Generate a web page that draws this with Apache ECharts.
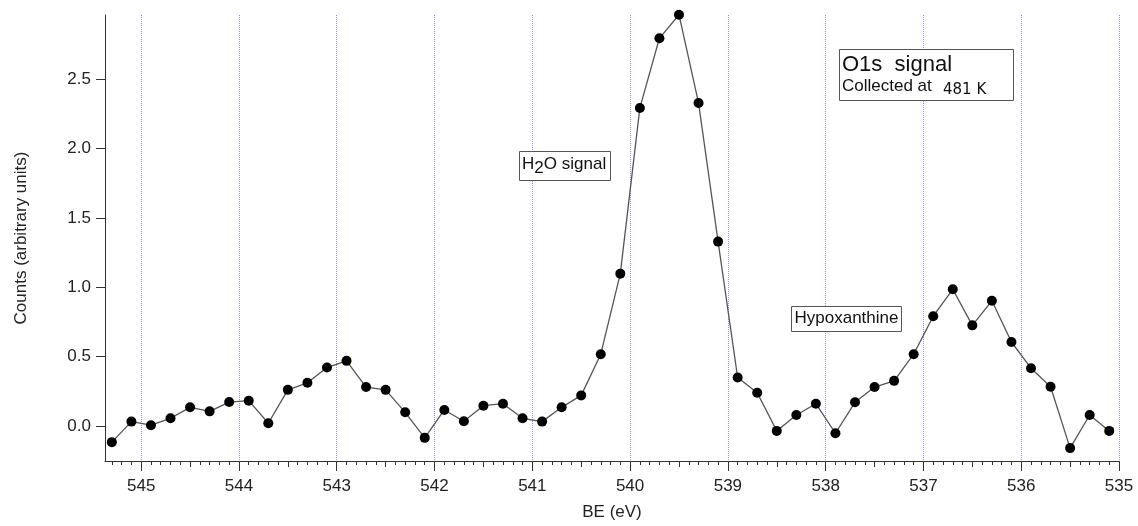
<!DOCTYPE html>
<html>
<head>
<meta charset="utf-8">
<script src="https://cdn.jsdelivr.net/npm/echarts@6/dist/echarts.min.js"></script>
<style>
html,body{margin:0;padding:0;background:#fff;}
#chart{width:1138px;height:526px;}
</style>
</head>
<body>
<div id="chart"></div>
<script>
// Binding energies (eV) of each measured point
const beValues = [545.3,545.1,544.9,544.7,544.5,544.3,544.1,543.9,543.7,543.5,
  543.3,543.1,542.9,542.7,542.5,542.3,542.1,541.9,541.7,541.5,
  541.3,541.1,540.9,540.7,540.5,540.3,540.1,539.9,539.7,539.5,
  539.3,539.1,538.9,538.7,538.5,538.3,538.1,537.9,537.7,537.5,
  537.3,537.1,536.9,536.7,536.5,536.3,536.1,535.9,535.7,535.5,
  535.3,535.1];
// Counts (arbitrary units)
const counts = [-0.117,0.031,0.005,0.055,0.134,0.105,0.172,0.182,0.019,0.26,
  0.311,0.421,0.469,0.28,0.26,0.098,-0.086,0.115,0.034,0.146,
  0.16,0.055,0.031,0.134,0.22,0.517,1.098,2.293,2.795,2.965,
  2.329,1.329,0.349,0.239,-0.036,0.079,0.16,-0.053,0.17,0.28,
  0.325,0.517,0.791,0.985,0.725,0.902,0.605,0.416,0.282,-0.16,
  0.079,-0.036];
// Tick labels / positions
const xMajorTicks = [535,536,537,538,539,540,541,542,543,544,545];
const xHalfTicks = [535.5,536.5,537.5,538.5,539.5,540.5,541.5,542.5,543.5,544.5];
const yTicks = [0,0.5,1.0,1.5,2.0,2.5];

const xMinorTicks = [];
for (let i = 5351; i <= 5453; i++) { if (i % 5 !== 0) xMinorTicks.push(i / 10); }

const FONT = 'Liberation Sans, Arial, sans-serif';
const X_MIN = 535, X_MAX = 545.37, Y_MIN = -0.253, Y_MAX = 2.963;

const chart = echarts.init(document.getElementById('chart'), null, {renderer:'canvas'});

function tickAxis(ticks, len) {
  return {
    type:'value', gridIndex:0, min:X_MIN, max:X_MAX, inverse:true, position:'bottom',
    axisLine:{show:false, onZero:false}, splitLine:{show:false},
    axisLabel:{show:false, customValues:ticks},
    axisTick:{show:true, length:len, customValues:ticks, lineStyle:{color:'#333', width:1}}
  };
}

const option = {
  backgroundColor:'#ffffff',
  animation:false,
  grid:{left:105, right:19, top:15, bottom:63, containLabel:false},
  xAxis:[
    {
      type:'value', gridIndex:0, min:X_MIN, max:X_MAX, interval:1, inverse:true, position:'bottom',
      name:'BE (eV)', nameLocation:'middle', nameGap:43,
      nameTextStyle:{fontFamily:FONT, fontSize:17, color:'#222'},
      axisLine:{show:true, onZero:false, lineStyle:{color:'#333', width:1}},
      axisTick:{show:true, length:10, customValues:xMajorTicks, lineStyle:{color:'#333', width:1}},
      axisLabel:{show:true, customValues:xMajorTicks, margin:17, fontFamily:FONT, fontSize:17, color:'#222',
        formatter:function(v){return String(Math.round(v));}},
      splitLine:{show:true, lineStyle:{type:[1,1], color:'#8c8cf0', width:1}}
    },
    tickAxis(xHalfTicks, 6),
    tickAxis(xMinorTicks, 4)
  ],
  yAxis:{
    type:'value', min:Y_MIN, max:Y_MAX, position:'left',
    name:'Counts (arbitrary units)', nameLocation:'middle', nameGap:75,
    nameTextStyle:{fontFamily:FONT, fontSize:17, color:'#222'},
    axisLine:{show:true, onZero:false, lineStyle:{color:'#333', width:1}},
    axisTick:{show:true, length:9, customValues:yTicks, lineStyle:{color:'#333', width:1}},
    axisLabel:{show:true, customValues:yTicks, margin:14, fontFamily:FONT, fontSize:17, color:'#222',
      formatter:function(v){return v.toFixed(1);}},
    splitLine:{show:false}
  },
  series:[{
    type:'line', xAxisIndex:0, yAxisIndex:0,
    data: beValues.map(function(b,i){return [b, counts[i]];}),
    clip:false,
    symbol:'circle', symbolSize:10,
    itemStyle:{color:'#000'},
    lineStyle:{color:'#555', width:1.3}
  }],
  graphic:[
    // H2O signal box
    {type:'rect', shape:{x:519.5, y:151.5, width:91, height:29}, style:{fill:'#fff', stroke:'#555', lineWidth:1}, z:100},
    {type:'text', x:522, y:164.2, style:{text:'H', font:'17px ' + FONT, fill:'#111', verticalAlign:'middle'}, z:101},
    {type:'text', x:534.3, y:167.9, style:{text:'2', font:'17px ' + FONT, fill:'#111', verticalAlign:'middle'}, z:101},
    {type:'text', x:543.8, y:164.2, style:{text:'O signal', font:'17px ' + FONT, fill:'#111', verticalAlign:'middle'}, z:101},
    // O1s box
    {type:'rect', shape:{x:839.5, y:49.5, width:174, height:51}, style:{fill:'#fff', stroke:'#555', lineWidth:1}, z:100},
    {type:'text', x:842, y:65, style:{text:'O1s  signal', font:'22px ' + FONT, fill:'#111', verticalAlign:'middle'}, z:101},
    {type:'text', x:842, y:86.7, style:{text:'Collected at', font:'17px ' + FONT, fill:'#111', verticalAlign:'middle'}, z:101},
    {type:'text', x:943, y:90.3, style:{text:'481 K', font:'15px DejaVu Sans, sans-serif', fill:'#111', verticalAlign:'middle'}, z:101},
    // Hypoxanthine box
    {type:'rect', shape:{x:791.5, y:306.5, width:110, height:25}, style:{fill:'#fff', stroke:'#555', lineWidth:1}, z:100},
    {type:'text', x:794.5, y:318.5, style:{text:'Hypoxanthine', font:'17px ' + FONT, fill:'#111', verticalAlign:'middle'}, z:101}
  ]
};
chart.setOption(option);
</script>
</body>
</html>
